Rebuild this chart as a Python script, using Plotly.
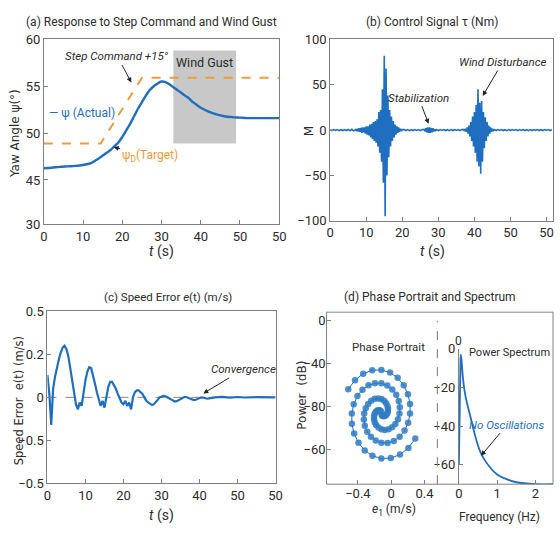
import numpy as np
import plotly.graph_objects as go

# ---------------- data ----------------
# (a) yaw angle response
yaw_t = [0, 2, 4, 6, 8, 10, 12, 14, 15, 16, 17, 18, 19, 20, 21, 22, 23, 24, 25, 26, 27, 28, 29, 30,
         31, 32, 33, 34, 35, 36, 37, 38, 39, 40, 42, 44, 46, 48, 50, 52, 55, 60]
yaw_actual = [46.25, 46.3, 46.4, 46.45, 46.5, 46.6, 46.8, 47.3, 47.6, 47.9, 48.2, 48.6, 49.0, 49.6,
              50.3, 51.0, 51.8, 52.6, 53.3, 54.0, 54.6, 55.0, 55.3, 55.5, 55.45, 55.2, 54.9, 54.6,
              54.3, 54.0, 53.7, 53.3, 53.0, 52.7, 52.3, 52.0, 51.8, 51.7, 51.65, 51.6, 51.6, 51.6]
target_t = [0, 14.5, 25, 60]
target_v = [48.9, 48.9, 55.9, 55.9]
gust_window = [33, 49]
gust_level = [48.9, 58.8]
a_tickvals = [60, 55, 50, 45, 40.3]
a_ticktext = ["60", "55", "50", "45", "30"]

# (b) control signal, segments: (start time, step, values)
tau_segments = [
    (0.0, 0.5, [0.5, -0.5, 0.6, -0.4, 0.5, -0.6, 0.4, -0.5, 0.6, -0.5, 0.8, -0.7, 0.9, -0.8]),
    (7.0, 0.25, [0.5, -1, 1.5, -1.5, 2, -2, 2.5, -3, 3, -2.5, 3, -4, 4, -5, 4, -6, 6, -8, 7, -10,
                 9, -12, 10, -14, 12, -18, 20, -25, 22, -35, 45, -58, 82, -95, 68, -50, 38, -30,
                 22, -18, 15, -12, 10, -8, 6, -5, 4, -3, 3, -2, 1.5, -1, 0.5]),
    (20.5, 0.5, [0.6, -0.5, 0.5, -0.6, 0.4, -0.5, 0.6, -0.4, 0.5, -0.6, 0.7]),
    (26.0, 0.25, [0.5, -1, 2, -2.5, 3, -3, 3, -3, 2.5, -2.5, 2, -1.5, 1, -0.5, 0.5]),
    (30.0, 0.5, [-0.5, 0.5, -0.4, 0.6, -0.5, 0.4, -0.6, 0.5, -0.5, 0.6, -0.4, 0.5, -0.6, 0.7]),
    (37.0, 0.25, [0.5, -1, 1.5, -2, 3, -4, 5, -7, 9, -12, 15, -18, 20, -25, 28, -35, 45, -40, 30,
                  -48, 32, -35, 20, -20, 14, -12, 9, -7, 5, -4, 3, -2, 1.5, -1, 0.5]),
    (46.0, 0.5, [-0.5, 0.5, -0.4, 0.6, -0.5, 0.4, -0.6, 0.5, -0.5, 0.6, -0.4, 0.5, -0.6, 0.5,
                 -0.4, 0.5, -0.5, 0.4, -0.6, 0.5, -0.5, 0.6, -0.4, 0.5, -0.5, 0.4, -0.5, 0.5,
                 -0.4, 0.5, -0.5, 0.4]),
]
b_tickvals = [0, 10, 20, 30, 40, 50, 60]
b_ticktext = ["0", "10", "20", "30", "40", "50", "50"]

# (c) speed error
err_start, err_step = 0.0, 0.5
err_values = [0.13, 0.02, -0.16, 0.05, 0.12, 0.18, 0.22, 0.26, 0.29, 0.30, 0.28, 0.24, 0.17, 0.09,
              0.02, -0.04, -0.07, -0.03, -0.05, 0.04, 0.10, 0.15, 0.175, 0.17, 0.13, 0.08, 0.03,
              -0.02, -0.05, -0.02, -0.06, 0.00, 0.06, 0.09, 0.09, 0.07, 0.05, 0.02, -0.01, -0.03,
              -0.04, -0.02, -0.05, -0.03, -0.07, 0.00, 0.03, 0.04, 0.04, 0.03, 0.02, 0.00, -0.02,
              -0.03, -0.04, -0.045, -0.04, -0.03, -0.015, 0.00, 0.005, 0.008, 0.006, 0.002,
              -0.005, -0.012, -0.02, -0.024, -0.022, -0.015, -0.008, -0.002, 0.002, 0.002,
              -0.002, -0.008, -0.013, -0.016, -0.014, -0.008, -0.003, 0.0, -0.002, -0.005,
              -0.008, -0.006, -0.003, -0.001, 0.0]
err_tail_t = [46, 48, 50, 52, 55, 58, 60]
err_tail_v = [0.003, -0.002, 0.002, -0.001, 0.001, 0.0, 0.0]
c_tickvals = [0.5, 0.25, 0, -0.25, -0.5]
c_ticktext = ["0.5", "0.2", "0", "\u22120.5", "\u22120.5"]

# (d) phase portrait (two spiral arms) and spectrum
arm1_x = [-0.516, -0.434, -0.336, -0.228, -0.118, -0.014, 0.077, 0.150, 0.200, 0.226, 0.226, 0.203,
          0.160, 0.101, 0.031, -0.044, -0.118, -0.186, -0.244, -0.288, -0.317, -0.328, -0.324,
          -0.306, -0.277, -0.240, -0.198, -0.157, -0.118, -0.085, -0.061, -0.045, -0.039, -0.041,
          -0.049, -0.063, -0.079, -0.094, -0.107, -0.115]
arm1_y = [-64.0, -55.4, -49.3, -46.1, -45.8, -48.3, -53.2, -60.2, -68.5, -77.6, -86.7, -95.2,
          -102.6, -108.4, -112.3, -114.1, -114.0, -111.9, -108.3, -103.6, -98.1, -92.3, -86.7,
          -81.7, -77.6, -74.7, -72.9, -72.5, -73.1, -74.6, -76.9, -79.5, -82.2, -84.7, -86.7,
          -88.2, -89.0, -89.1, -88.6, -87.8]
arm2_x = [0.289, 0.206, 0.105, -0.005, -0.118, -0.225, -0.318, -0.393, -0.445, -0.472, -0.473,
          -0.450, -0.405, -0.345, -0.272, -0.195, -0.118, -0.047, 0.013, 0.060, 0.090, 0.103,
          0.099, 0.081, 0.050, 0.011, -0.032, -0.077, -0.118, -0.153, -0.181, -0.198, -0.206,
          -0.206, -0.197, -0.183, -0.167, -0.150, -0.135, -0.124]
arm2_y = [-110.0, -118.8, -125.0, -128.3, -128.7, -126.1, -121.1, -113.9, -105.4, -96.1, -86.7,
          -77.9, -70.3, -64.3, -60.2, -58.3, -58.4, -60.5, -64.2, -69.1, -74.8, -80.8, -86.7,
          -92.0, -96.3, -99.5, -101.4, -102.0, -101.4, -99.8, -97.4, -94.7, -91.8, -89.0, -86.7,
          -85.0, -83.9, -83.6, -83.8, -84.6]
d_left_tickvals = [0, -40, -80, -120]
d_left_ticktext = ["0", "\u221240", "\u221280", "\u221260"]
spec_f = [0, 0.02, 0.04, 0.05, 0.07, 0.1, 0.15, 0.2, 0.3, 0.4, 0.5, 0.6, 0.8, 1.0, 1.2, 1.5, 2.0, 2.5]
spec_db = [-60, -35, -8, -3, -6, -14, -22, -27, -35, -43, -50, -55, -61, -65, -67, -69, -70, -70]

# ---------------- styling ----------------
BLUE = "#1f6ebf"
ORANGE = "#f39a36"
AX = "#808080"
TXT = "#2b2b2b"
NARROW = "Roboto, Liberation Sans, sans-serif"
WIDE = "DejaVu Sans, Verdana, sans-serif"
W, H = 560, 533


def px(x):
    return x / W


def py(y):
    return 1 - y / H


fig = go.Figure()

# (a)
fig.add_trace(go.Scatter(x=target_t, y=target_v, mode="lines", xaxis="x", yaxis="y",
                         line=dict(color=ORANGE, width=2, dash="dash"), showlegend=False))
fig.add_trace(go.Scatter(x=yaw_t, y=yaw_actual, mode="lines", xaxis="x", yaxis="y",
                         line=dict(color=BLUE, width=2.4, shape="spline"), showlegend=False))

# (b)
tau_t, tau_v = [], []
for start, step, vals in tau_segments:
    for i, v in enumerate(vals):
        tau_t.append(start + step * i)
        tau_v.append(v)
fig.add_trace(go.Scatter(x=tau_t, y=tau_v, mode="lines", xaxis="x2", yaxis="y2",
                         line=dict(color=BLUE, width=1.6), showlegend=False))

# (c)
err_t = [err_start + err_step * i for i in range(len(err_values))] + err_tail_t
err_v = err_values + err_tail_v
fig.add_trace(go.Scatter(x=[0, 60], y=[0, 0], mode="lines", xaxis="x3", yaxis="y3",
                         line=dict(color="#666666", width=0.8, dash="dash"), showlegend=False))
fig.add_trace(go.Scatter(x=err_t, y=err_v, mode="lines", xaxis="x3", yaxis="y3",
                         line=dict(color=BLUE, width=2.2), showlegend=False))

# (d)
for ax_, ay_ in [(arm1_x, arm1_y), (arm2_x, arm2_y)]:
    fig.add_trace(go.Scatter(x=ax_, y=ay_, mode="lines+markers", xaxis="x4", yaxis="y4",
                             line=dict(color=BLUE, width=1),
                             marker=dict(color="#2f7cc4", size=6.5, opacity=0.85),
                             showlegend=False))
fig.add_trace(go.Scatter(x=spec_f, y=spec_db, mode="lines", xaxis="x5", yaxis="y5",
                         line=dict(color=BLUE, width=1.8, shape="spline"), showlegend=False))

tickfont = dict(family=NARROW, size=13, color=TXT)
common = dict(showgrid=False, zeroline=False, ticks="inside", ticklen=4, tickcolor=AX,
              linecolor=AX, linewidth=1, tickfont=tickfont)

fig.update_layout(
    width=W, height=H, margin=dict(l=0, r=0, t=0, b=0),
    plot_bgcolor="white", paper_bgcolor="white",
    xaxis=dict(domain=[px(40.7), px(280.7)], range=[0, 60], anchor="y", showline=True, mirror=True,
               tickvals=b_tickvals, ticktext=b_ticktext, **common),
    yaxis=dict(domain=[py(223.3), py(33.3)], range=[40.3, 60], anchor="x", showline=True, mirror=True,
               tickvals=a_tickvals, ticktext=a_ticktext, **common),
    xaxis2=dict(domain=[px(332.7), 1.0], range=[0, 61.8], anchor="y2", showline=True, mirror=True,
                tickvals=b_tickvals, ticktext=b_ticktext, **common),
    yaxis2=dict(domain=[py(220), py(33.3)], range=[-100, 100], anchor="x2", showline=True, mirror=True,
                tickvals=[100, 50, 0, -50, -100], ticktext=["100", "50", "0", "\u221250", "\u2212100"],
                **common),
    xaxis3=dict(domain=[px(44.3), px(277)], range=[0, 60], anchor="y3", showline=True, mirror=True,
                tickvals=b_tickvals, ticktext=b_ticktext, **common),
    yaxis3=dict(domain=[py(490), py(313.3)], range=[-0.5, 0.5], anchor="x3", showline=True, mirror=True,
                tickvals=c_tickvals, ticktext=c_ticktext, **common),
    xaxis4=dict(domain=[px(329), px(442)], range=[-0.776, 0.553], anchor="y4", showline=False,
                tickvals=[-0.4, 0, 0.4], ticktext=["\u22120.4", "0", "0.4"], **common),
    yaxis4=dict(domain=[py(491), py(314)], range=[-152.7, 8.2], anchor="x4", showline=False,
                tickvals=d_left_tickvals, ticktext=d_left_ticktext, **common),
    xaxis5=dict(domain=[px(464), 1.0], range=[0, 2.46], anchor="y5", showline=False,
                tickvals=[0, 1, 2], ticktext=["0", "1", "2"], **common),
    yaxis5=dict(domain=[py(491), py(351.7)], range=[-70, 0], anchor="x5", showline=True,
                tickvals=[0, -20, -40, -60], ticktext=["0", "\u221220", "\u221240", "\u221260"], **common),
)

shapes = [
    dict(type="rect", xref="x", yref="y", x0=gust_window[0], x1=gust_window[1],
         y0=gust_level[0], y1=gust_level[1], fillcolor="#c8c8c8", line=dict(width=0), layer="below"),
    dict(type="rect", xref="paper", yref="paper", x0=px(329), x1=1.0, y0=py(491), y1=py(314),
         line=dict(color=AX, width=1)),
    dict(type="line", xref="paper", yref="paper", x0=px(442), x1=px(442), y0=py(491), y1=py(323),
         line=dict(color="#777777", width=1, dash="dash")),
]
fig.update_layout(shapes=shapes)

ann = []


def text(x, y, s, size=12, color=TXT, family=NARROW, angle=0, xanchor="center"):
    ann.append(dict(x=px(x), y=py(y), xref="paper", yref="paper", text=s, showarrow=False,
                    font=dict(family=family, size=size, color=color), textangle=angle,
                    xanchor=xanchor, yanchor="middle"))


def arrow(xr, yr, x, y, s, ax, ay, size=12, color=TXT):
    ann.append(dict(x=x, y=y, xref=xr, yref=yr, text=s, showarrow=True, ax=ax, ay=ay,
                    arrowhead=2, arrowsize=1, arrowwidth=1, arrowcolor="#222222",
                    font=dict(family=NARROW, size=size, color=color)))


# titles
text(150, 15, "(a) Response to Step Command and Wind Gust", size=12)
text(437, 15, "(b) Control Signal \u03c4 (Nm)", size=12)
text(167, 298, "(c) Speed Error <i>e</i>(t) (m/s)", size=11.5)
text(435, 298, "(d) Phase Portrait and Spectrum", size=12)
# axis titles
text(161, 252, "<i>t</i> (s)", size=14)
text(437, 252, "<i>t</i> (s)", size=14)
text(161, 523, "<i>t</i> (s)", size=14)
text(398, 518, "<i>e</i><sub>1</sub> (m/s)", size=12)
text(505, 525, "Frequency (Hz)", size=12)
text(12, 130, "Yaw Angle \u03c8(\u00b0)", size=12, family=WIDE, angle=-90)
text(312, 128, "M", size=12, family=WIDE, angle=-90)
text(15, 405, "Speed Error  e(t) (m/s)", size=11.5, family=WIDE, angle=-90)
text(304, 400, "Power  (dB)", size=12, family=WIDE, angle=-90)
# in-plot labels
text(80, 109, "\u2014 \u03c8 (Actual)", size=12, color=BLUE)
text(205, 57, "Wind Gust", size=12.5)
text(392, 350, "Phase Portrait", size=11.5)
text(516, 355, "Power Spectrum", size=11)
text(464, 344, "0", size=12)

arrow("x", "y", 22.3, 55.4, "<i>Step Command +15\u00b0</i>", -14, -26, size=11.5)
arrow("x", "y", 17.8, 48.5, "\u03c8<sub>D</sub>(Target)", 36, 9, size=12, color=ORANGE)
arrow("x2", "y2", 27.3, 7, "<i>Stabilization</i>", -10, -26, size=11.5)
arrow("x2", "y2", 42.3, 37.5, "<i>Wind Disturbance</i>", 20, -34, size=11.5)
arrow("x3", "y3", 41.0, 0.023, "<i>Convergence</i>", 40, -24, size=11.5)
arrow("x5", "y5", 0.58, -55.3, "<i>No Oscillations</i>", 26, -31, size=11.5, color=BLUE)

fig.update_layout(annotations=ann)
fig.write_html("out.html", config={"displayModeBar": False},
               post_script="document.body.style.margin='0';document.body.style.overflow='hidden';")
